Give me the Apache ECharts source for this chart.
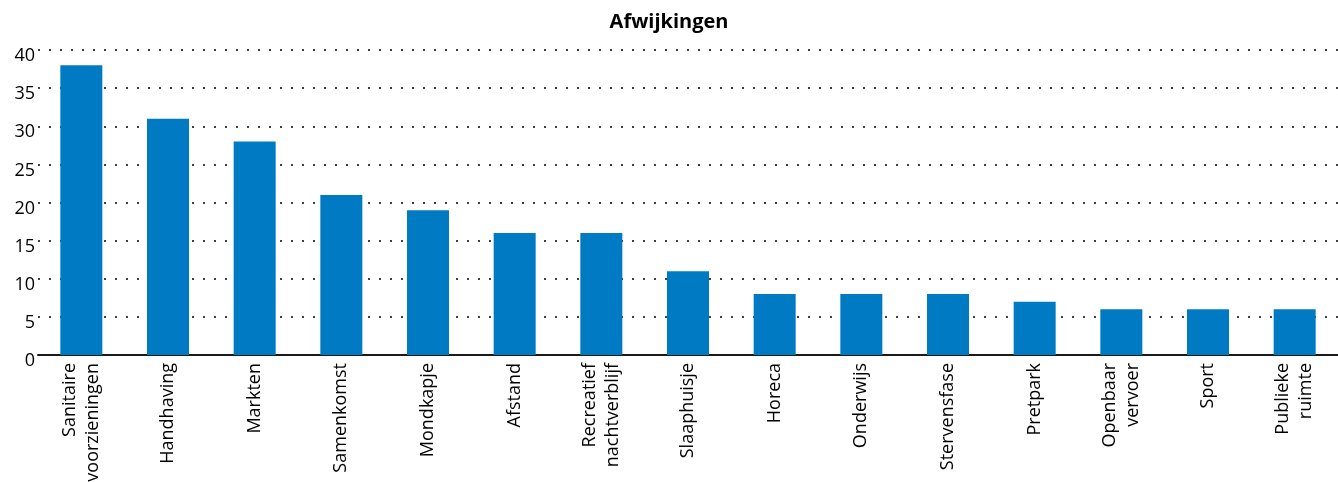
<!DOCTYPE html>
<html>
<head>
<meta charset="utf-8">
<script src="https://cdn.jsdelivr.net/npm/echarts@6/dist/echarts.min.js"></script>
<style>
  html, body { margin: 0; padding: 0; background: #fff; }
  #chart { width: 1338px; height: 482px; }
</style>
</head>
<body>
<div id="chart"></div>
<script>
// Categories (line breaks mark wrapped labels)
const categories = [
  'Sanitaire\nvoorzieningen', 'Handhaving', 'Markten', 'Samenkomst', 'Mondkapje',
  'Afstand', 'Recreatief\nnachtverblijf', 'Slaaphuisje', 'Horeca', 'Onderwijs',
  'Stervensfase', 'Pretpark', 'Openbaar\nvervoer', 'Sport', 'Publieke\nruimte'
];
// Number of deviations per category
const afwijkingen = [38, 31, 28, 21, 19, 16, 16, 11, 8, 8, 8, 7, 6, 6, 6];
// Value axis ticks
const yMin = 0, yMax = 40, yStep = 5;

const chart = echarts.init(document.getElementById('chart'));
chart.setOption({
  animation: false,
  title: {
    text: 'Afwijkingen',
    left: 'center',
    top: 7,
    textStyle: { fontFamily: 'Open Sans', fontWeight: 'bold', fontSize: 20, color: '#000' }
  },
  grid: { left: 38, right: 0, top: 50, bottom: 127, outerBoundsMode: 'none', containLabel: false },
  xAxis: {
    type: 'category',
    data: categories,
    axisLine: { lineStyle: { color: '#1a1a1a', width: 2 } },
    axisTick: { show: false },
    axisLabel: {
      rotate: 90,
      interval: 0,
      margin: 8,
      fontFamily: 'Open Sans',
      fontSize: 18,
      lineHeight: 23,
      color: '#000'
    }
  },
  yAxis: {
    type: 'value',
    min: yMin,
    max: yMax,
    interval: yStep,
    axisLine: { show: false },
    axisTick: { show: false },
    splitLine: { lineStyle: { type: [2, 9], color: '#000', width: 1.5 } },
    axisLabel: {
      margin: 3,
      fontFamily: 'Open Sans',
      fontSize: 18,
      lineHeight: 12,
      verticalAlign: 'top',
      color: '#000'
    }
  },
  series: [{
    type: 'bar',
    data: afwijkingen,
    barWidth: 42,
    itemStyle: { color: '#007bc3' },
    z: 1
  }]
});
</script>
</body>
</html>
